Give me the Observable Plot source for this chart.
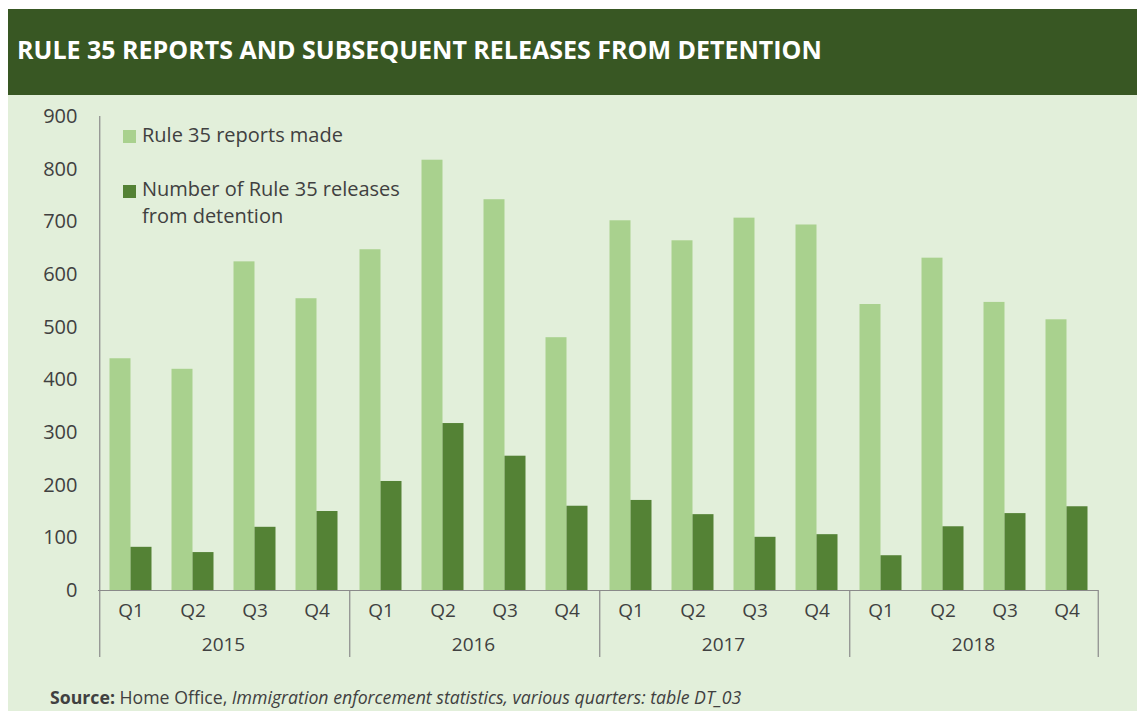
<!DOCTYPE html>
<html><head><meta charset="utf-8">
<script src="https://cdn.jsdelivr.net/npm/d3@7"></script>
<script src="https://cdn.jsdelivr.net/npm/@observablehq/plot@0.6"></script>
<style>
body{margin:0;background:#fff;font-family:"Open Sans",sans-serif;}
#wrap{position:absolute;left:8px;top:9px;width:1129px;height:702px;background:#e2efda;overflow:hidden;}
#bar{position:absolute;left:0;top:0;width:1129px;height:86px;background:#385723;}
#title{position:absolute;left:9px;top:28px;color:#fff;font-weight:700;font-size:25px;line-height:1;white-space:nowrap;}
#chart{position:absolute;left:0;top:86px;}
.leg{position:absolute;color:#404040;font-size:20px;white-space:nowrap;}
.sw{position:absolute;width:13px;height:13px;}
#source{position:absolute;left:42px;top:680px;font-size:17.7px;line-height:1;color:#404040;white-space:nowrap;}
</style></head>
<body>
<div id="wrap">
  <div id="bar"></div>
  <div id="title">RULE 35 REPORTS AND SUBSEQUENT RELEASES FROM DETENTION</div>
  <div id="chart"></div>
  <div class="sw" style="left:115px;top:121px;background:#a9d18e"></div>
  <div class="leg" style="left:134px;top:116px;line-height:1">Rule 35 reports made</div>
  <div class="sw" style="left:115px;top:176px;background:#548235"></div>
  <div class="leg" style="left:134px;top:166px;line-height:27px">Number of Rule 35 releases<br>from detention</div>
  <div id="source"><b>Source:</b> Home Office, <i>Immigration enforcement statistics, various quarters: table DT_03</i></div>
</div>
<script>
const years = ["2015", "2016", "2017", "2018"];
const quarters = ["Q1", "Q2", "Q3", "Q4"];
const reportsMade = [440, 420, 624, 554, 647, 817, 742, 480, 702, 664, 707, 694, 543, 631, 547, 514];
const releases = [82, 72, 120, 150, 207, 317, 255, 160, 171, 144, 101, 106, 66, 121, 146, 159];
const yTicks = [0, 100, 200, 300, 400, 500, 600, 700, 800, 900];

const rows = [];
years.forEach((yr, i) => quarters.forEach((q, j) => rows.push({year: yr, q, reports: reportsMade[i * 4 + j], releases: releases[i * 4 + j]})));

const W = 1129, H = 580, mT = 21, mB = 85, mL = 90, mR = 39;
const frameH = H - mT - mB;
const step = (W - mL - mR) / (years.length * quarters.length);
const padIn = 0.664;
const half = step * (1 - padIn) / 2;
const axisColor = "#8a8a8a";

const chart = Plot.plot({
  width: W, height: H, marginTop: mT, marginBottom: mB, marginLeft: mL, marginRight: mR,
  style: {background: "transparent", color: "#404040", fontFamily: "Open Sans", fontSize: "19px", overflow: "visible"},
  fx: {domain: years, padding: 0, axis: null},
  x: {domain: quarters, paddingInner: padIn, paddingOuter: padIn / 2, axis: null},
  y: {domain: [0, 900], axis: null},
  marks: [
    Plot.barY(rows, {fx: "year", x: "q", y: "reports", fill: "#a9d18e", dx: -half}),
    Plot.barY(rows, {fx: "year", x: "q", y: "releases", fill: "#548235", dx: half}),
    Plot.ruleY([0], {stroke: axisColor, strokeWidth: 1.2}),
    Plot.ruleX([years[0]], {fx: d => d, x: () => quarters[0], dx: -step / 2, insetBottom: -67, stroke: axisColor, strokeWidth: 1.2}),
    Plot.ruleX(years.slice(1), {fx: d => d, x: () => quarters[0], dx: -step / 2, insetTop: frameH, insetBottom: -67, stroke: axisColor, strokeWidth: 1.2}),
    Plot.ruleX([years[years.length - 1]], {fx: d => d, x: () => quarters[3], dx: step / 2, insetTop: frameH, insetBottom: -67, stroke: axisColor, strokeWidth: 1.2}),
    Plot.axisY({ticks: yTicks, tickSize: 0, tickPadding: 21, label: null, fontSize: 20}),
    Plot.axisX({tickSize: 0, tickPadding: 13, label: null}),
    Plot.axisFx({anchor: "bottom", tickSize: 0, tickPadding: 47, label: null})
  ]
});
document.getElementById("chart").appendChild(chart);
</script>
</body></html>
